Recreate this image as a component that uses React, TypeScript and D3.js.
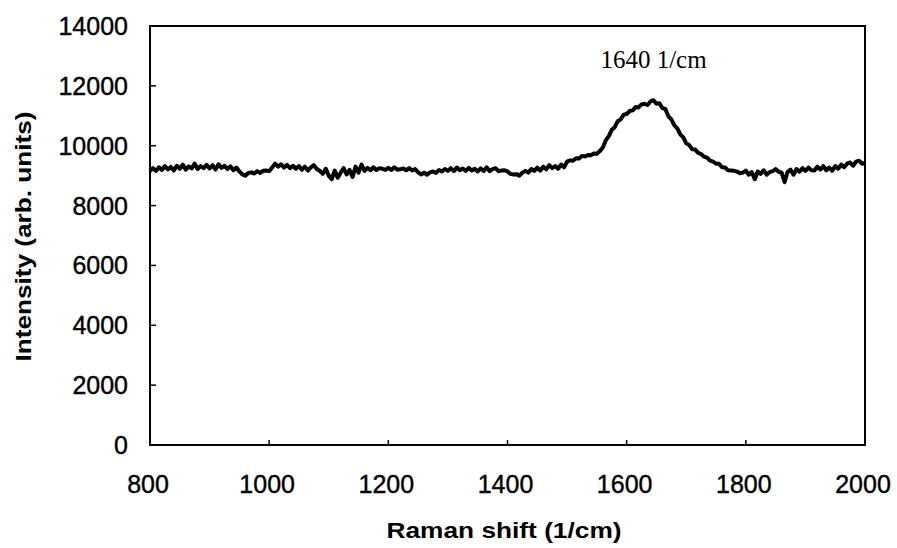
import React from "react";
import * as d3 from "d3";

// Raman shift sampled every 5 cm^-1 from 800 to 2000
const shiftStart = 800;
const shiftStep = 5;
const intensity: number[] = [
  // 800-845
  9150, 9250, 9160, 9280, 9190, 9320, 9210, 9290, 9170, 9330,
  // 850-895
  9230, 9370, 9200, 9310, 9240, 9400, 9220, 9320, 9250, 9360,
  // 900-945
  9240, 9350, 9200, 9380, 9260, 9330, 9220, 9310, 9180, 9270,
  // 950-995
  9140, 9040, 9000, 9090, 9110, 9070, 9150, 9090, 9160, 9170,
  // 1000-1045
  9150, 9270, 9400, 9300, 9380, 9270, 9360, 9250, 9330, 9230,
  // 1050-1095
  9320, 9200, 9300, 9170, 9280, 9350, 9220, 9160, 9060, 9230,
  // 1100-1145
  9000, 8880, 9170, 8930, 9100, 9250, 9040, 9190, 8960, 9300,
  // 1150-1195
  9100, 9370, 9160, 9260, 9180, 9280, 9190, 9250, 9230, 9190,
  // 1200-1245
  9260, 9190, 9280, 9200, 9210, 9240, 9180, 9250, 9170, 9220,
  // 1250-1295
  9110, 9040, 9100, 9030, 9110, 9140, 9090, 9190, 9140, 9220,
  // 1300-1345
  9160, 9250, 9150, 9270, 9180, 9240, 9160, 9260, 9170, 9230,
  // 1350-1395
  9140, 9240, 9160, 9280, 9150, 9220, 9250, 9150, 9170, 9180,
  // 1400-1445
  9140, 9060, 9040, 9050, 9000, 9100, 9160, 9100, 9220, 9160,
  // 1450-1495
  9270, 9170, 9300, 9210, 9350, 9250, 9320, 9230, 9370, 9280,
  // 1500-1545
  9470, 9510, 9500, 9580, 9570, 9660, 9640, 9690, 9680, 9740,
  // 1550-1595
  9730, 9820, 9940, 10180, 10320, 10530, 10620, 10820, 10880, 11040,
  // 1600-1645
  11060, 11160, 11180, 11290, 11280, 11380, 11400, 11360, 11480, 11520,
  // 1650-1695
  11400, 11420, 11250, 11230, 10980, 10880, 10680, 10580, 10380, 10280,
  // 1700-1745
  10080, 10020, 9880, 9870, 9760, 9720, 9630, 9600, 9500, 9470,
  // 1750-1795
  9400, 9400, 9280, 9270, 9180, 9170, 9160, 9140, 9080, 9100,
  // 1800-1845
  9170, 9030, 9120, 8880, 9140, 9060, 9180, 9030, 9120, 9150,
  // 1850-1895
  9220, 9130, 9100, 8780, 9120, 9200, 9030, 9220, 9130, 9250,
  // 1900-1945
  9160, 9270, 9180, 9170, 9300, 9200, 9320, 9180, 9270, 9160,
  // 1950-1995
  9320, 9230, 9370, 9280, 9400, 9440, 9330, 9470, 9500, 9400,
  // 2000
  9420,
];

const xTicks = [800, 1000, 1200, 1400, 1600, 1800, 2000];
const yTicks = [0, 2000, 4000, 6000, 8000, 10000, 12000, 14000];
const xTitle = "Raman shift (1/cm)";
const yTitle = "Intensity (arb. units)";
const peakLabel = "1640 1/cm";
const peakLabelPos = 1640;

export default function App() {
  const W = 897;
  const H = 548;
  const left = 150;
  const right = 865;
  const top = 26;
  const bottom = 445;

  const x = d3.scaleLinear().domain([800, 2000]).range([left, right]);
  const y = d3.scaleLinear().domain([0, 14000]).range([bottom, top]);

  const points: [number, number][] = intensity.map((v, i) => [shiftStart + i * shiftStep, v]);
  const line = d3
    .line<[number, number]>()
    .x((d) => x(d[0]))
    .y((d) => y(d[1]))
    .curve(d3.curveLinear);

  const sans = "'Liberation Sans', Arial, sans-serif";
  const serif = "'Liberation Serif', 'Times New Roman', serif";

  return (
    <svg
      width={W}
      height={H}
      style={{ position: "absolute", left: 0, top: 0, background: "#fff" }}
    >
      <rect x={0} y={0} width={W} height={H} fill="#fff" />
      {/* frame */}
      <rect
        x={left}
        y={top}
        width={right - left}
        height={bottom - top}
        fill="none"
        stroke="#000"
        strokeWidth={2}
      />
      {/* y ticks */}
      {yTicks.map((t) => (
        <g key={"y" + t}>
          <line x1={left} x2={left + 6} y1={y(t)} y2={y(t)} stroke="#000" strokeWidth={1.5} />
          <text
            x={128}
            y={y(t) + 9}
            textAnchor="end"
            fontFamily={sans}
            fontSize={25}
            fill="#000"
            stroke="#000"
            strokeWidth={0.4}
          >
            {t}
          </text>
        </g>
      ))}
      {/* x ticks */}
      {xTicks.map((t) => (
        <g key={"x" + t}>
          <line x1={x(t)} x2={x(t)} y1={bottom} y2={bottom - 5} stroke="#000" strokeWidth={1.5} />
          <text
            x={x(t) - 2}
            y={493}
            textAnchor="middle"
            fontFamily={sans}
            fontSize={25}
            fill="#000"
            stroke="#000"
            strokeWidth={0.4}
          >
            {t}
          </text>
        </g>
      ))}
      {/* data */}
      <path
        d={line(points) || ""}
        fill="none"
        stroke="#000"
        strokeWidth={4}
        strokeLinejoin="round"
      />
      {/* annotation */}
      <text
        x={x(peakLabelPos) + 3}
        y={68}
        textAnchor="middle"
        fontFamily={serif}
        fontSize={25}
        fill="#000"
      >
        {peakLabel}
      </text>
      {/* axis titles */}
      <text
        x={504}
        y={538}
        textAnchor="middle"
        fontFamily={sans}
        fontWeight="bold"
        fontSize={22}
        textLength={235}
        lengthAdjust="spacingAndGlyphs"
        fill="#000"
      >
        {xTitle}
      </text>
      <text
        transform={`translate(31, ${(top + bottom) / 2 + 1}) rotate(-90)`}
        textAnchor="middle"
        fontFamily={sans}
        fontWeight="bold"
        fontSize={22}
        textLength={250}
        lengthAdjust="spacingAndGlyphs"
        fill="#000"
      >
        {yTitle}
      </text>
    </svg>
  );
}
